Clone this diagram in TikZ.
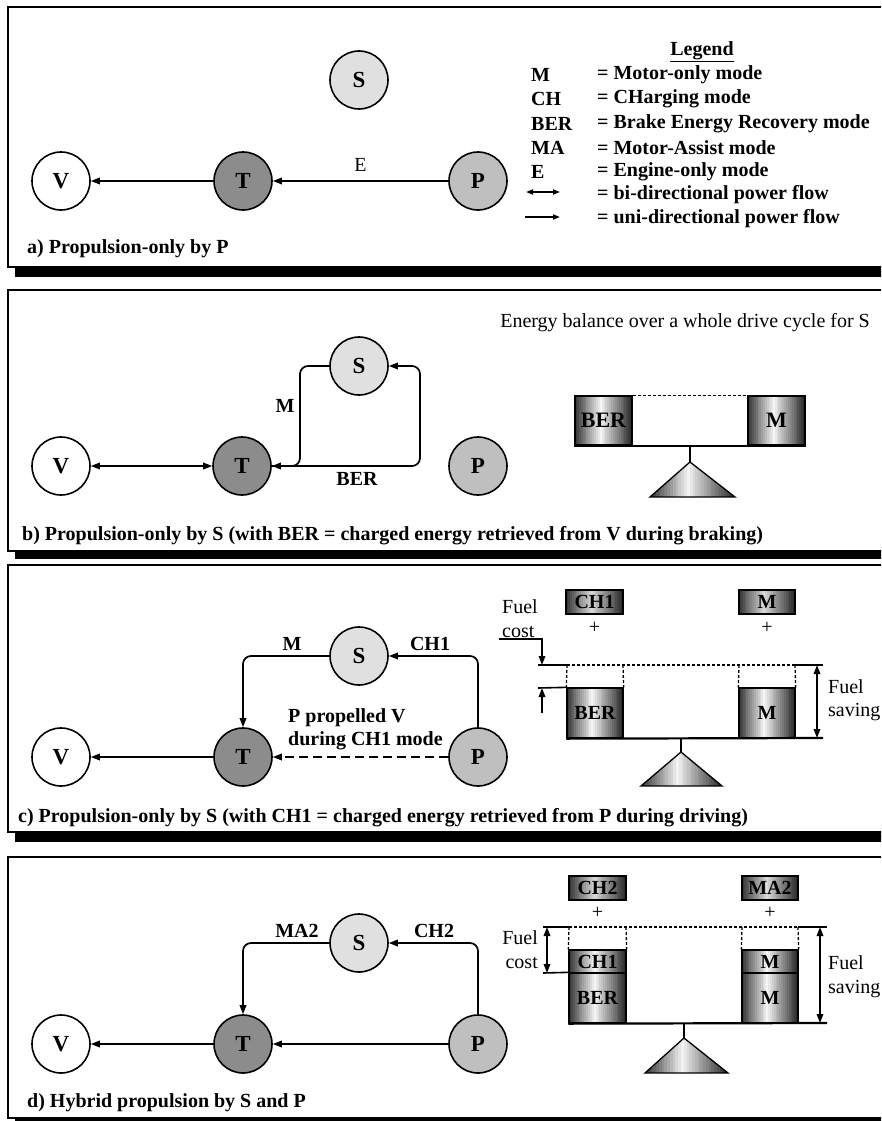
\documentclass[tikz,border=0pt]{standalone}
\usepackage{fontspec}
\setmainfont{Liberation Serif}
\usetikzlibrary{arrows.meta}
\tikzset{
  tip/.tip={Triangle[length=9pt,width=6.5pt]},
  smalltip/.tip={Triangle[length=7pt,width=5pt]},
  ln/.style={line width=1.6pt},
  flow/.style={line width=1.7pt,-tip},
  bflow/.style={line width=1.7pt,tip-tip},
  unit/.style={circle,draw,line width=1.6pt,minimum size=58pt,inner sep=0pt,font=\fontsize{23}{27}\selectfont\bfseries},
  bt/.style={font=\fontsize{20}{23}\selectfont\bfseries,inner sep=0pt},
  rt/.style={font=\fontsize{20}{23}\selectfont,inner sep=0pt},
  frame/.style={draw,line width=1.6pt},
  shadow/.style={fill=black},
  wbox/.style={draw,line width=1.3pt,inner sep=0pt,font=\fontsize{20}{23}\selectfont\bfseries},
  bigw/.style={font=\fontsize{22}{25}\selectfont\bfseries},
  beam/.style={line width=2.2pt},
  dline/.style={line width=1.3pt,dash pattern=on 3pt off 2pt},
}
% gradient strips: x1,y1,x2,y2,mid darkness
\newcommand\gradstrips[5]{%
  \foreach \k in {0,...,29}{%
    \pgfmathsetmacro\tt{(\k+0.5)/30}%
    \pgfmathsetmacro\pp{\tt<0.45 ? 80-(80-#5)*\tt/0.45 : #5+(85-#5)*(\tt-0.45)/0.55}%
    \fill[black!\pp] ({#1+(#3-#1)*\k/30},#2) rectangle ({#1+(#3-#1)*(\k+1)/30+0.5},#4);
  }%
}
% weight node: name,x1,y1,x2,y2,mid,text
\newcommand\wnode[7]{%
  \gradstrips{#2}{#3}{#4}{#5}{#6}%
  \node[wbox,minimum width={(#4-#2)*1pt},minimum height={(#5-#3)*1pt}] (#1) at ({(#2+#4)/2},{(#3+#5)/2}) {#7};%
}
% fulcrum: left x, base y, apex x, apex y, right x
\newcommand\fulcrum[5]{%
  \begin{scope}
    \clip (#1,#2) -- (#3,#4) -- (#5,#2) -- cycle;
    \gradstrips{#1}{#4}{#5}{#2}{5}%
  \end{scope}
  \draw[line width=1.3pt] (#1,#2) -- (#3,#4) -- (#5,#2) -- cycle;%
}
\begin{document}
\begin{tikzpicture}[x=1pt,y=-1pt]
\useasboundingbox (0,0) rectangle (881,1121);
\clip (0,0) rectangle (881,1121);
\fill[white] (0,0) rectangle (881,1121);

% ---------- frames ----------
\fill[shadow] (15,267) rectangle (895,277);
\draw[frame] (8,7) rectangle (895,267);
\fill[shadow] (15,551) rectangle (895,559);
\draw[frame] (8,290) rectangle (895,551);
\fill[shadow] (15,832) rectangle (895,842);
\draw[frame] (8,565) rectangle (895,832);
\fill[shadow] (15,1119) rectangle (895,1130);
\draw[frame] (8,857) rectangle (895,1118);

% ---------- panel a ----------
\node[unit,fill=white] (Va) at (61,181) {V};
\node[unit,fill=black!45] (Ta) at (243,181) {T};
\node[unit,fill=black!25] (Pa) at (478,181) {P};
\node[unit,fill=black!12] (Sa) at (359,80) {S};
\draw[flow] (Ta.west) -- (Va.east);
\draw[flow] (Pa.west) -- (Ta.east) node[rt,midway,above=9pt] (Ea) {E};
\node[bt,anchor=west] (capa) at (27,249) {a) Propulsion-only by P};

\node[bt] (leg) at (702,52) {\underline{Legend}};
\node[bt,anchor=west] (l1) at (531,75) {M};
\node[bt,anchor=west] (l2) at (531,99) {CH};
\node[bt,anchor=west] (l3) at (531,124) {BER};
\node[bt,anchor=west] (l4) at (531,148) {MA};
\node[bt,anchor=west] (l5) at (531,172) {E};
\node[bt,anchor=west] (r1) at (597,75) {= Motor-only mode};
\node[bt,anchor=west] (r2) at (597,99) {= CHarging mode};
\node[bt,anchor=west] (r3) at (597,124) {= Brake Energy Recovery mode};
\node[bt,anchor=west] (r4) at (597,148) {= Motor-Assist mode};
\node[bt,anchor=west] (r5) at (597,172) {= Engine-only mode};
\node[bt,anchor=west] (r6) at (597,195) {= bi-directional power flow};
\node[bt,anchor=west] (r7) at (597,219) {= uni-directional power flow};
\coordinate (b1) at (526,192);
\coordinate (b2) at (560,192);
\coordinate (u1) at (525,217);
\coordinate (u2) at (560,217);
\draw[line width=1.6pt,smalltip-smalltip] (b1) -- (b2);
\draw[line width=1.6pt,-smalltip] (u1) -- (u2);

% ---------- panel b ----------
\node[unit,fill=white] (Vb) at (61,466) {V};
\node[unit,fill=black!45] (Tb) at (242,466) {T};
\node[unit,fill=black!25] (Pb) at (478,466) {P};
\node[unit,fill=black!12] (Sb) at (359,366) {S};
\draw[bflow] (Vb.east) -- (Tb.west);
\coordinate (bM) at (300,466);
\coordinate (bB) at (420,466);
\draw[flow,rounded corners=8pt] (Sb.west) -| (bM) -- (Tb.east);
\draw[flow,rounded corners=8pt] (Tb.east) -- (bB) |- (Sb.east);
\node[bt] (Mb) at (285,406) {M};
\node[bt] (BERb) at (357,479) {BER};
\node[rt,anchor=east] (eb) at (870,323) {Energy balance over a whole drive cycle for S};
\node[bt,anchor=west] (capb) at (22,536) {b) Propulsion-only by S (with BER = charged energy retrieved from V during braking)};

\wnode{wb1}{575}{396}{632}{445}{4}{\fontsize{22}{25}\selectfont BER}
\wnode{wb2}{748}{396}{805}{445}{4}{\fontsize{22}{25}\selectfont M}
\draw[dline] (wb1.north east) -- (wb2.north west);
\draw[beam] (wb1.south west) -- (wb2.south east);
\coordinate (pb) at (690,445);
\coordinate (ab) at (690,462);
\draw[line width=1.6pt] (pb) -- (ab);
\fulcrum{650}{497}{690}{462}{735}

% ---------- panel c ----------
\node[unit,fill=white] (Vc) at (61,757) {V};
\node[unit,fill=black!45] (Tc) at (243,757) {T};
\node[unit,fill=black!25] (Pc) at (478,757) {P};
\node[unit,fill=black!12] (Sc) at (359,656) {S};
\draw[flow] (Tc.west) -- (Vc.east);
\draw[flow,rounded corners=8pt] (Sc.west) -| (Tc.north);
\draw[flow,rounded corners=8pt] (Pc.north) |- (Sc.east);
\draw[flow,dash pattern=on 9pt off 5pt] (Pc.west) -- (Tc.east);
\node[bt] (Mc) at (292,644) {M};
\node[bt] (CHc) at (430,644) {CH1};
\node[bt,anchor=west,align=left,font=\fontsize{20}{23}\selectfont\bfseries] (ppc) at (288,729) {P propelled V\\during CH1 mode};
\node[bt,anchor=west] (capc) at (18,818) {c) Propulsion-only by S (with CH1 = charged energy retrieved from P during driving)};

\wnode{tc1}{566}{590}{623}{614}{15}{CH1}
\wnode{tc2}{739}{590}{795}{614}{15}{M}
\node[rt] (pl1) at (594.5,628) {+};
\node[rt] (pl2) at (767,628) {+};
\wnode{wc1}{567}{688}{623}{738}{4}{BER}
\wnode{wc2}{739}{688}{795}{738}{4}{M}
\draw[dline] (567,665) -- (795,665);
\draw[dline] (567,665) -- (wc1.north west);
\draw[dline] (623,665) -- (wc1.north east);
\draw[dline] (739,665) -- (wc2.north west);
\draw[dline] (795,665) -- (wc2.north east);
\draw[beam] (wc1.south west) -- (823,738);
\draw[ln] (538,665) -- (567,665);
\draw[ln] (538,688) -- (wc1.north west);
\draw[ln] (795,665) -- (823,665);
\draw[ln,-tip] (499,639) -- (542,639) -- (542,665);
\draw[flow] (542,713) -- (542,688);
\draw[bflow] (817,665) -- (817,738);
\node[rt,anchor=west] (fc1) at (502,607) {Fuel};
\node[rt,anchor=west] (fc2) at (502,632) {cost};
\node[rt,anchor=west] (fs1) at (828,687) {Fuel};
\node[rt,anchor=west] (fs2) at (828,712) {saving};
\coordinate (pc) at (681,738);
\coordinate (ac) at (681,752);
\draw[line width=1.6pt] (pc) -- (ac);
\fulcrum{641}{786}{681}{752}{722}

% ---------- panel d ----------
\node[unit,fill=white] (Vd) at (61,1044) {V};
\node[unit,fill=black!45] (Td) at (243,1044) {T};
\node[unit,fill=black!25] (Pd) at (478,1044) {P};
\node[unit,fill=black!12] (Sd) at (359,943) {S};
\draw[flow] (Td.west) -- (Vd.east);
\draw[flow] (Pd.west) -- (Td.east);
\draw[flow,rounded corners=8pt] (Sd.west) -| (Td.north);
\draw[flow,rounded corners=8pt] (Pd.north) |- (Sd.east);
\node[bt] (MAd) at (297,931) {MA2};
\node[bt] (CHd) at (434,931) {CH2};
\node[bt,anchor=west] (capd) at (27,1103) {d) Hybrid propulsion by S and P};

\wnode{td1}{569}{876}{626}{900}{15}{CH2}
\wnode{td2}{742}{876}{798}{900}{15}{MA2}
\node[rt] (pd1) at (597.5,913) {+};
\node[rt] (pd2) at (770,913) {+};
\wnode{wd1}{569}{950}{626}{973}{4}{CH1}
\wnode{wd2}{569}{973}{626}{1023}{4}{BER}
\wnode{wd3}{742}{950}{798}{973}{4}{M}
\wnode{wd4}{742}{973}{798}{1023}{4}{M}
\draw[dline] (569,927) -- (798,927);
\draw[dline] (569,927) -- (wd1.north west);
\draw[dline] (626,927) -- (wd1.north east);
\draw[dline] (742,927) -- (wd3.north west);
\draw[dline] (798,927) -- (wd3.north east);
\draw[ln] (543,927) -- (569,927);
\draw[ln] (798,927) -- (827,927);
\draw[ln] (543,973) -- (wd2.north west);
\draw[beam] (wd2.south west) -- (827,1023);
\draw[bflow] (547,927) -- (547,973);
\draw[bflow] (820,927) -- (820,1023);
\node[rt,anchor=east] (dc1) at (538,938) {Fuel};
\node[rt,anchor=east] (dc2) at (538,963) {cost};
\node[rt,anchor=west] (ds1) at (828,963) {Fuel};
\node[rt,anchor=west] (ds2) at (828,989) {saving};
\coordinate (pd) at (684,1023);
\coordinate (ad) at (684,1038);
\draw[line width=1.6pt] (pd) -- (ad);
\fulcrum{645}{1073}{684}{1038}{728}
\end{tikzpicture}
\end{document}
